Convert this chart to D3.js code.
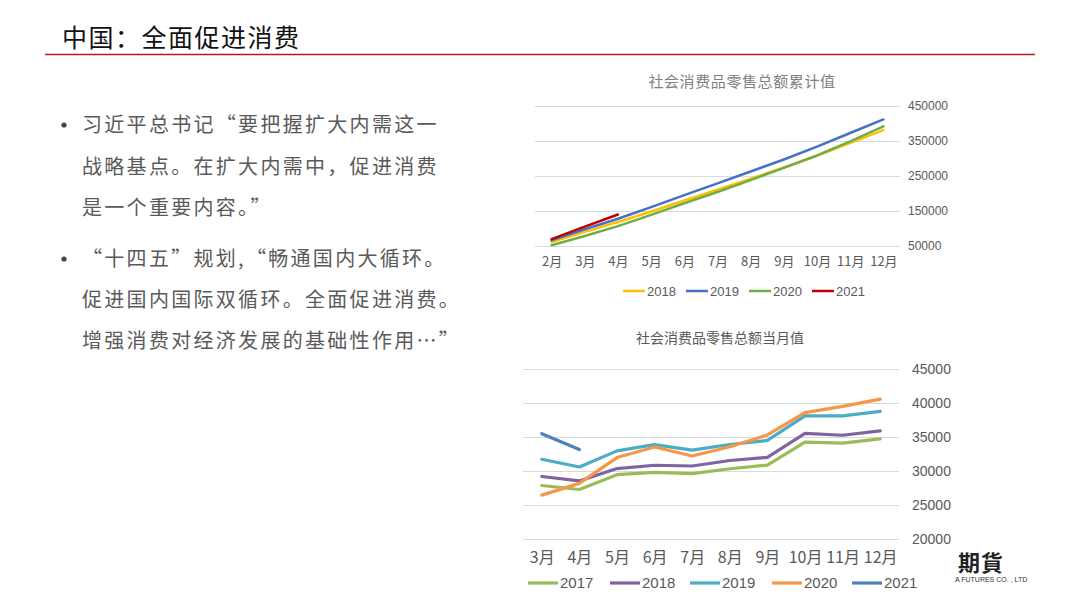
<!DOCTYPE html>
<html><head><meta charset="utf-8">
<script src="https://cdn.jsdelivr.net/npm/d3@7"></script>
<style>
html,body{margin:0;padding:0;background:#fff;}
svg{display:block;}
</style></head>
<body>
<svg id="c" width="1080" height="608"></svg>
<script>
// ---------- data ----------
const pageTitle = "中国：全面促进消费";
const bullets = [
  ["习近平总书记“要把握扩大内需这一", "战略基点。在扩大内需中，促进消费", "是一个重要内容。”"],
  ["“十四五”规划,“畅通国内大循环。", "促进国内国际双循环。全面促进消费。", "增强消费对经济发展的基础性作用…”"]
];

const topTitle = "社会消费品零售总额累计值";
const topMonths = ["2月","3月","4月","5月","6月","7月","8月","9月","10月","11月","12月"];
const topTicks = [50000,150000,250000,350000,450000];
const topYears = ["2018","2019","2020","2021"];
const cum2018 = [61082, 90275, 118566, 148625, 180018, 210752, 242265, 274299, 307865, 344700, 380987];
const cum2019 = [66064, 97790, 128004, 160905, 195210, 228866, 262830, 297238, 334000, 372872, 411649];
const cum2020 = [52130, 78580, 106758, 138854, 172256, 204420, 238249, 273324, 308679, 349000, 391981];
const cum2021 = [69737, 105221, 140000];
const topColors = ["#ffc000","#4472c4","#70ad47","#c00000"];

const botTitle = "社会消费品零售总额当月值";
const botMonths = ["3月","4月","5月","6月","7月","8月","9月","10月","11月","12月"];
const botTicks = [20000,25000,30000,35000,40000,45000];
const botYears = ["2017","2018","2019","2020","2021"];
const mon2017 = [27864, 27278, 29459, 29808, 29610, 30330, 30870, 34240, 34108, 34734];
const mon2018 = [29194, 28542, 30359, 30842, 30734, 31542, 32005, 35534, 35260, 35893];
const mon2019 = [31726, 30586, 32956, 33878, 33073, 33896, 34495, 38104, 38094, 38777];
const mon2020 = [26450, 28178, 31973, 33526, 32203, 33571, 35295, 38576, 39514, 40566];
const mon2021 = [35484, 33153];
const botColors = ["#9bbb59","#8064a2","#4bacc6","#f79646","#4f81bd"];

// ---------- drawing ----------
const svg = d3.select("#c");
const cjk = "'Noto Sans CJK SC','Noto Sans',sans-serif";
const lat = "'Liberation Sans','DejaVu Sans',sans-serif";

// header
svg.append("text").attr("x",62).attr("y",47).text(pageTitle)
  .attr("font-family",cjk).attr("font-size",25).attr("letter-spacing",1.5).attr("fill","#111");
svg.append("line").attr("x1",45).attr("x2",1035).attr("y1",54.5).attr("y2",54.5)
  .attr("stroke","#b01c1c").attr("stroke-width",1.6);

// bullets
const lineY = [[125,167,208],[259,300,341]];
bullets.forEach((b,i)=>{
  svg.append("circle").attr("cx",64).attr("cy",lineY[i][0]).attr("r",2.6).attr("fill","#444");
  b.forEach((t,j)=>{
    svg.append("text").attr("x",82).attr("y",lineY[i][j]).attr("dy","0.36em").text(t)
      .attr("font-family",cjk).attr("font-size",20).attr("letter-spacing",2.3)
      .attr("fill","#5a5a5a");
  });
});

// ---------- top chart ----------
{
  const x = d3.scalePoint().domain(topMonths).range([535,900]).padding(0.5);
  const y = d3.scaleLinear().domain([50000,450000]).range([246,106]);
  const g = svg.append("g");
  g.append("text").attr("x",742).attr("y",82).attr("dy","0.35em").attr("text-anchor","middle")
    .text(topTitle).attr("font-family",cjk).attr("font-size",15).attr("fill","#808080").attr("letter-spacing",0.6);
  const ax = d3.axisRight(y).tickValues(topTicks).tickSize(-(900-535)).tickFormat(d3.format("d"));
  const ag = g.append("g").attr("transform","translate(900,0)").call(ax);
  ag.select(".domain").remove();
  ag.selectAll(".tick line").attr("stroke","#d9d9d9").attr("stroke-width",1);
  ag.selectAll(".tick text").attr("x",8).attr("font-family",lat).attr("font-size",12).attr("fill","#595959");
  const xg = g.append("g").attr("transform","translate(0,246)").call(d3.axisBottom(x).tickSize(0));
  xg.select(".domain").remove();
  xg.selectAll(".tick text").attr("y",11).attr("font-family",cjk).attr("font-size",13).attr("fill","#595959");
  const series = [cum2018,cum2019,cum2020,cum2021];
  const line = d3.line().x((d,i)=>x(topMonths[i])).y(d=>y(d));
  series.forEach((s,k)=>{
    g.append("path").datum(s).attr("d",line).attr("fill","none")
      .attr("stroke",topColors[k]).attr("stroke-width",2.5).attr("stroke-linejoin","round").attr("stroke-linecap","round");
  });
  const lx = [623,686,749,812];
  topYears.forEach((yr,k)=>{
    g.append("line").attr("x1",lx[k]).attr("x2",lx[k]+22).attr("y1",291).attr("y2",291)
      .attr("stroke",topColors[k]).attr("stroke-width",2.5);
    g.append("text").attr("x",lx[k]+24).attr("y",291).attr("dy","0.35em").text(yr)
      .attr("font-family",lat).attr("font-size",13).attr("fill","#595959");
  });
}

// ---------- bottom chart ----------
{
  const x = d3.scalePoint().domain(botMonths).range([523,899]).padding(0.5);
  const y = d3.scaleLinear().domain([20000,45000]).range([539,369]);
  const g = svg.append("g");
  g.append("text").attr("x",720).attr("y",338).attr("dy","0.35em").attr("text-anchor","middle")
    .text(botTitle).attr("font-family",cjk).attr("font-size",14).attr("fill","#595959");
  const ax = d3.axisRight(y).tickValues(botTicks).tickSize(-(899-523)).tickFormat(d3.format("d"));
  const ag = g.append("g").attr("transform","translate(899,0)").call(ax);
  ag.select(".domain").remove();
  ag.selectAll(".tick line").attr("stroke","#d9d9d9").attr("stroke-width",1);
  ag.selectAll(".tick text").attr("x",13).attr("font-family",lat).attr("font-size",14).attr("fill","#595959");
  const xg = g.append("g").attr("transform","translate(0,539)").call(d3.axisBottom(x).tickSize(0));
  xg.select(".domain").remove();
  xg.selectAll(".tick text").attr("y",13).attr("font-family",cjk).attr("font-size",16).attr("fill","#595959");
  const series = [mon2017,mon2018,mon2019,mon2020,mon2021];
  const line = d3.line().x((d,i)=>x(botMonths[i])).y(d=>y(d));
  series.forEach((s,k)=>{
    g.append("path").datum(s).attr("d",line).attr("fill","none")
      .attr("stroke",botColors[k]).attr("stroke-width",3.2).attr("stroke-linejoin","round").attr("stroke-linecap","round");
  });
  const lx = [528,610,690,772,852];
  botYears.forEach((yr,k)=>{
    g.append("line").attr("x1",lx[k]).attr("x2",lx[k]+30).attr("y1",583).attr("y2",583)
      .attr("stroke",botColors[k]).attr("stroke-width",3.2);
    g.append("text").attr("x",lx[k]+32).attr("y",583).attr("dy","0.36em").text(yr)
      .attr("font-family",lat).attr("font-size",15).attr("fill","#595959");
  });
}

// logo fragment
svg.append("text").attr("x",958).attr("y",563).attr("dy","0.35em").text("期貨")
  .attr("font-family",cjk).attr("font-weight",700).attr("font-size",22).attr("fill","#222").attr("letter-spacing",1);
svg.append("text").attr("x",955).attr("y",580).attr("dy","0.35em").text("A FUTURES CO. , LTD")
  .attr("font-family",lat).attr("font-size",7).attr("fill","#333");
</script>
</body></html>
